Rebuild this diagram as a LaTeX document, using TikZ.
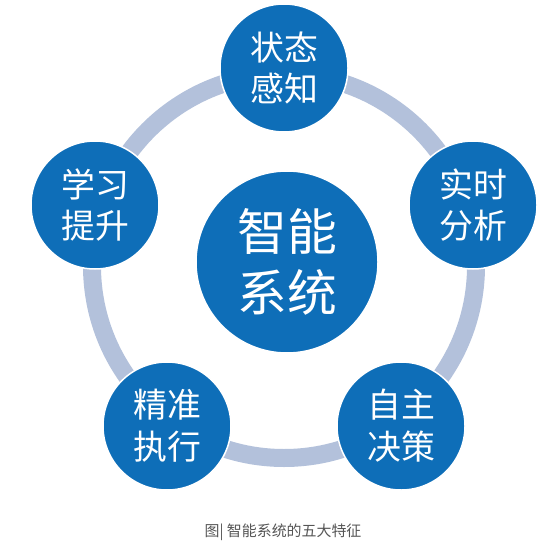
\documentclass[tikz,border=0pt]{standalone}
\usepackage{fontspec}
\newfontfamily\cjk{Noto Sans CJK SC}
\usepackage{tikz}
\definecolor{ringgray}{HTML}{B3C1DB}
\definecolor{featblue}{HTML}{0E6EB8}
\definecolor{capgray}{HTML}{555555}

\begin{document}
\begin{tikzpicture}[x=1bp, y=-1bp,
	feat/.style={circle, fill=featblue, draw=white, line width=1.5bp, minimum size=128bp, inner sep=0pt, text=white, align=center, font=\cjk\fontsize{34}{42}\selectfont},
	hub/.style={feat, minimum size=182bp, font=\cjk\fontsize{50}{61}\selectfont}]
	\useasboundingbox (0,0) rectangle (539,544);
	\draw [ringgray, line width=18bp] (284,266) circle [radius=192bp];
	\node [hub] at (287,262) (core) {智能\\系统};
	
	\foreach \x/\y/\name/\lbl in {
		284/68/sense/状态\\感知,
		473/205/analyse/实时\\分析,
		401/426/decide/自主\\决策,
		167/426/act/精准\\执行,
		95/205/learn/学习\\提升
	}
	{
		\node [feat] at (\x,\y) (\name) {\lbl};
	}
	
	\node [font=\cjk\fontsize{15}{17}\selectfont, text=capgray] at (283,532) (caption) {图| 智能系统的五大特征};
\end{tikzpicture}
\end{document}
